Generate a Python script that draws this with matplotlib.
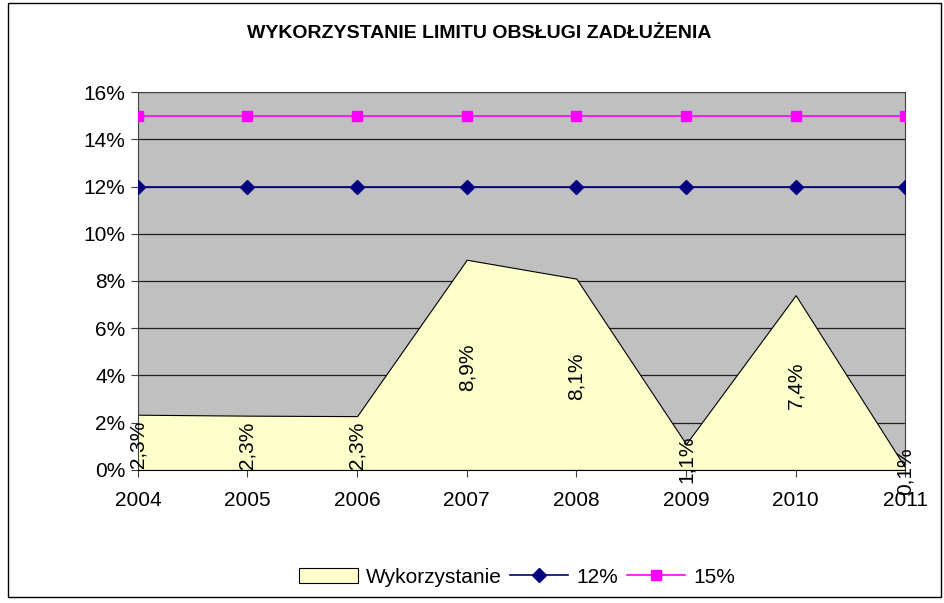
import matplotlib.pyplot as plt
import matplotlib.ticker as mtick
from matplotlib.patches import Rectangle

plt.rcParams["font.family"] = ["Liberation Sans", "DejaVu Sans"]

years = [2004, 2005, 2006, 2007, 2008, 2009, 2010, 2011]
usage = [2.34, 2.3, 2.28, 8.9, 8.1, 1.1, 7.4, 0.1]
limit_12 = [12, 12, 12, 12, 12, 12, 12, 12]
limit_15 = [15, 15, 15, 15, 15, 15, 15, 15]


def pct(x, pos):
    return f"{x:.0f}%"


fig = plt.figure(figsize=(9.44, 6.03), dpi=100)
fig.patch.set_facecolor("white")
fig.add_artist(Rectangle((0.008, 0.01), 0.989, 0.985, transform=fig.transFigure,
                         fill=False, edgecolor="black", linewidth=1.0))

ax = fig.add_axes([0.146, 0.2206, 0.813, 0.6268])
ax.set_facecolor("#C0C0C0")

ax.fill_between(years, usage, 0, color="#FFFFCC", edgecolor="black", linewidth=0.8,
                label="Wykorzystanie", zorder=2)
ax.plot(years, limit_12, color="#000080", marker="D", markersize=7, linewidth=1.2,
        label="12%", zorder=3)
ax.plot(years, limit_15, color="#FF00FF", marker="s", markersize=7, linewidth=1.2,
        label="15%", zorder=3)

# data labels sit mid-height inside the area, rotated like in Excel
for x, v in zip(years, usage):
    ax.text(x, v / 2 - 0.1, f"{v:.1f}%".replace(".", ","), rotation=90, ha="center",
            va="center", fontsize=15, zorder=4)

ax.set_xlim(2004, 2011)
ax.set_ylim(0, 16)
ax.set_yticks(range(0, 17, 2))
ax.yaxis.set_major_formatter(mtick.FuncFormatter(pct))
ax.set_xticks(years)
ax.grid(axis="y", color="#202020", linewidth=0.9, zorder=1)
ax.set_axisbelow(True)
ax.tick_params(axis="both", labelsize=15, length=5, color="#404040")
ax.tick_params(axis="x", pad=10)
ax.tick_params(axis="y", pad=4)
for side in ["top", "right", "left"]:
    ax.spines[side].set_color("#404040")
ax.spines["bottom"].set_color("black")

fig.text(0.508, 0.945, "WYKORZYSTANIE LIMITU OBSŁUGI ZADŁUŻENIA", ha="center",
         va="center", fontsize=14, fontweight="bold")

fig.legend(loc="center", bbox_to_anchor=(0.548, 0.043), ncol=3, frameon=False,
           fontsize=15, handlelength=2.8, columnspacing=0.4, handletextpad=0.4)

fig.savefig("out.png", dpi=100)
